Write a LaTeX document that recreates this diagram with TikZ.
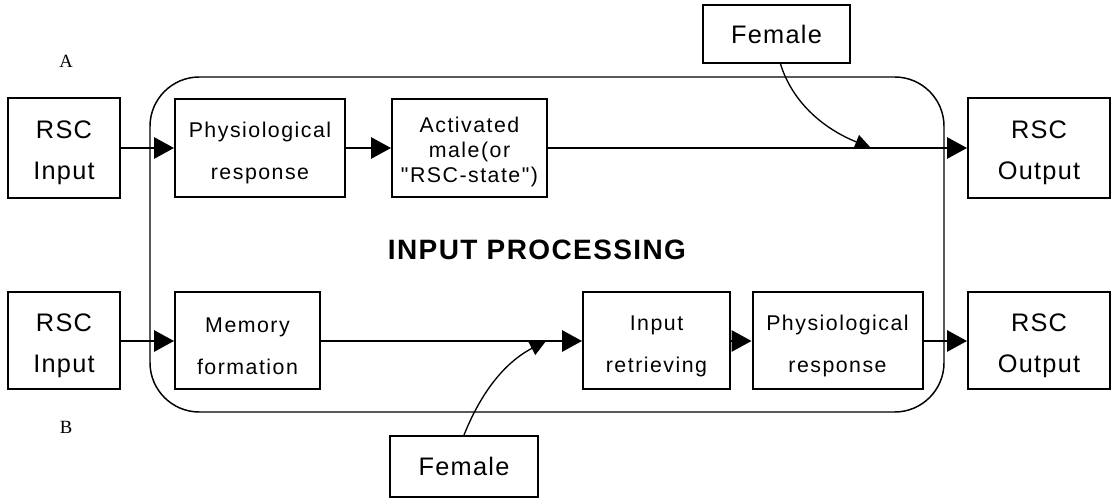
\documentclass[tikz,border=0pt]{standalone}
\usepackage{fontspec}
\setmainfont{Liberation Sans}
\newfontfamily\bigf{Liberation Sans}[LetterSpace=5]
\newfontfamily\smf{Liberation Sans}[LetterSpace=7]
\newfontfamily\serf{Liberation Serif}
\usetikzlibrary{arrows.meta}
\newcommand\topstrut[1]{\rule{0pt}{#1}}
\begin{document}
\begin{tikzpicture}[x=0.75pt,y=-0.75pt,
  blk/.style={draw, line width=1.5pt, align=center, inner sep=0pt},
  bigtxt/.style={font=\bigf\fontsize{19}{31}\selectfont},
  smtxt/.style={font=\smf\fontsize{16}{31}\selectfont},
  tighttxt/.style={font=\smf\fontsize{16}{19}\selectfont},
  flow/.style={line width=1.5pt, -{Triangle[length=15pt,width=16pt]}},
  infl/.style={line width=1pt, -{Triangle[length=12pt,width=11pt]}},
  lab/.style={font=\serf\fontsize{14}{16}\selectfont}
]
\useasboundingbox (0,0) rectangle (1120,498);

% container
\draw[line width=1.1pt, rounded corners=37pt] (150,77) rectangle (944,412);
\node[font=\bigf\bfseries\fontsize{21}{25}\selectfont] (title) at (537,250) {INPUT PROCESSING};

% labels
\node[lab] (labA) at (66,61) {A};
\node[lab] (labB) at (66,427) {B};

% top row
\node[blk, bigtxt, minimum width=84pt, minimum height=75pt] (rin1) at (64,148) {\topstrut{20.5pt}RSC\\Input};
\node[blk, smtxt, minimum width=127.5pt, minimum height=73.5pt] (phys1) at (260,148) {\topstrut{19pt}Physiological\\response};
\node[blk, tighttxt, minimum width=116.25pt, minimum height=73.5pt] (act) at (469.5,148) {\topstrut{17.5pt}Activated\\male(or\\"RSC-state")};
\node[blk, bigtxt, minimum width=106.5pt, minimum height=75pt] (rout1) at (1039,148) {\topstrut{20.5pt}RSC\\Output};
\node[blk, bigtxt, minimum width=110.25pt, minimum height=43.5pt] (fem1) at (776.5,34) {Female};

% bottom row
\node[blk, bigtxt, minimum width=84pt, minimum height=72.75pt] (rin2) at (64,341) {\topstrut{20.5pt}RSC\\Input};
\node[blk, smtxt, minimum width=108.75pt, minimum height=72.75pt] (mem) at (247.5,341) {\topstrut{19pt}Memory\\formation};
\node[blk, smtxt, minimum width=110.25pt, minimum height=72.75pt] (inret) at (656.5,341) {\topstrut{19pt}Input\\retrieving};
\node[blk, smtxt, minimum width=127.5pt, minimum height=72.75pt] (phys2) at (837.5,341) {\topstrut{19pt}Physiological\\response};
\node[blk, bigtxt, minimum width=106.5pt, minimum height=72.75pt] (rout2) at (1039,341) {\topstrut{20.5pt}RSC\\Output};
\node[blk, bigtxt, minimum width=111pt, minimum height=45.75pt] (fem2) at (464,466.5) {Female};

% connectors
\draw[flow] (rin1) -- (phys1);
\draw[flow] (phys1) -- (act);
\draw[flow] (act) -- (rout1);
\draw[flow] (rin2) -- (mem);
\draw[flow] (mem) -- (inret);
\draw[flow] (inret) -- (phys2);
\draw[flow] (phys2) -- (rout2);

\coordinate (j1) at (871,148);
\coordinate (j2) at (546,341);
\draw[infl] ([xshift=3pt]fem1.south) .. controls (790,95) and (815,125) .. (j1);
\draw[infl] (fem2.north) .. controls (478,400) and (500,365) .. (j2);
\end{tikzpicture}
\end{document}
